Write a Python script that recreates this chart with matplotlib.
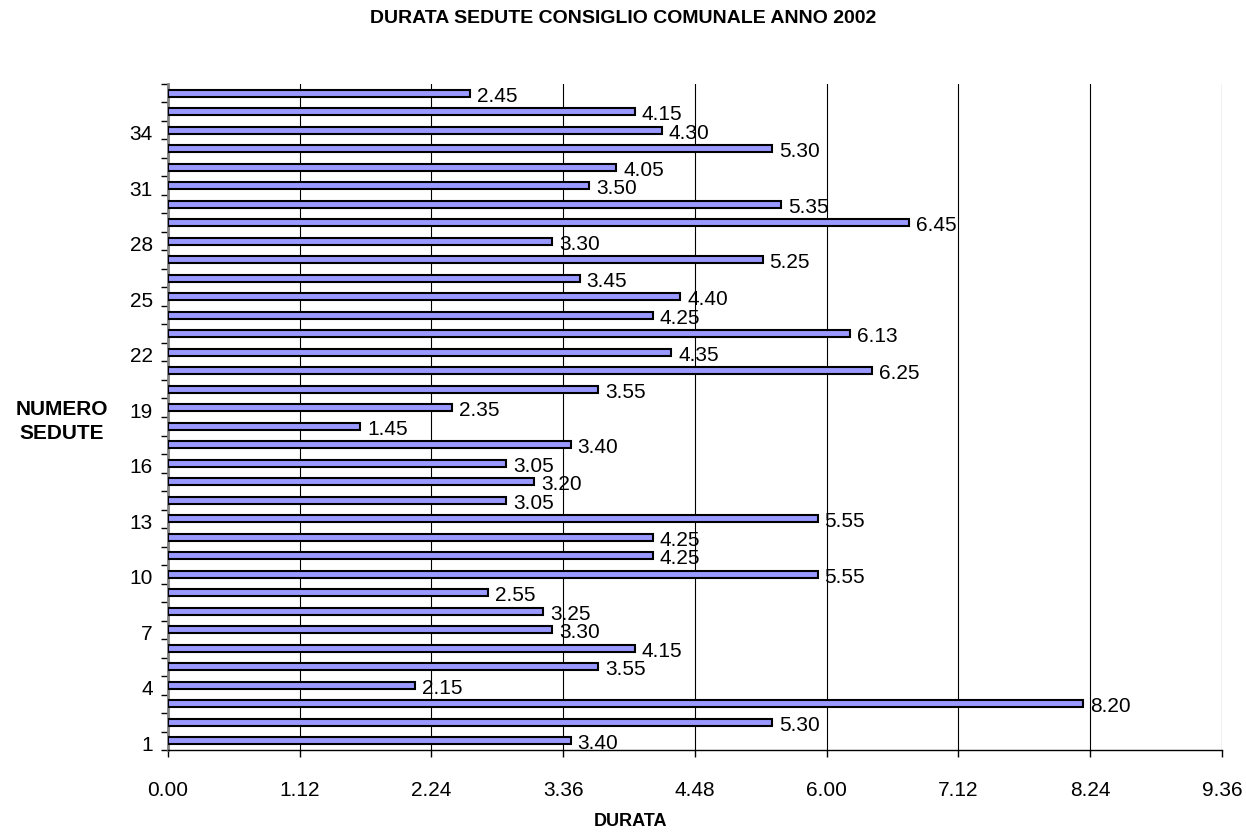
import numpy as np
import matplotlib.pyplot as plt
import matplotlib.transforms as mtransforms
from matplotlib.ticker import FuncFormatter, MultipleLocator

plt.rcParams['font.family'] = ['Liberation Sans', 'DejaVu Sans']

# --- dati (durata in ore.minuti, sedute 1..36) ---
SEDUTE = list(range(1, 37))
DURATE = ["3.40", "5.30", "8.20", "2.15", "3.55", "4.15", "3.30", "3.25", "2.55",
          "5.55", "4.25", "4.25", "5.55", "3.05", "3.20", "3.05", "3.40", "1.45",
          "2.35", "3.55", "6.25", "4.35", "6.13", "4.25", "4.40", "3.45", "5.25",
          "3.30", "6.45", "5.35", "3.50", "4.05", "5.30", "4.30", "4.15", "2.45"]
ETICHETTE_Y = [1, 4, 7, 10, 13, 16, 19, 22, 25, 28, 31, 34]
TITOLO = "DURATA SEDUTE CONSIGLIO COMUNALE ANNO 2002"


def in_ore(s):
    """'h.mm' -> ore decimali"""
    h, m = s.split(".")
    return int(h) + int(m) / 60.0


def fmt_ore(x, pos=None):
    """ore decimali -> 'h.mm'"""
    tot = int(round(x * 60))
    return f"{tot // 60}.{tot % 60:02d}"


ore = [in_ore(d) for d in DURATE]

fig = plt.figure(figsize=(12.46, 8.34), dpi=100)
ax = fig.add_axes([0.1348, 0.1007, 0.8459, 0.7986])

ax.barh(SEDUTE, ore, height=0.4, color='#9999FF', edgecolor='black',
        linewidth=1.5, zorder=3)

for y, x, lab in zip(SEDUTE, ore, DURATE):
    ax.annotate(lab, (x, y), xytext=(5, -2), textcoords='offset points',
                ha='left', va='center', fontsize=15, zorder=4)

ax.set_xlim(0, 9.6)
ax.set_ylim(0.5, 36.5)
ax.xaxis.set_major_locator(MultipleLocator(1.2))
ax.xaxis.set_major_formatter(FuncFormatter(fmt_ore))
ax.tick_params(axis='x', direction='out', length=5, width=1, labelsize=15, pad=17)

ax.set_yticks(ETICHETTE_Y)
ax.set_yticks(np.arange(0.5, 37, 1), minor=True)
ax.tick_params(axis='y', which='major', length=0, labelsize=15, pad=11)
ax.tick_params(axis='y', which='minor', length=5, width=1, color='black')
# etichette leggermente sotto il centro della barra
shift = mtransforms.ScaledTranslation(0, -2.5 / 100, fig.dpi_scale_trans)
for t in ax.get_yticklabels():
    t.set_transform(t.get_transform() + shift)

ax.grid(axis='x', color='black', linewidth=0.8, zorder=0)
for sp in ['top', 'right']:
    ax.spines[sp].set_visible(False)
ax.spines['left'].set_color('#808080')
ax.spines['left'].set_linewidth(2)
ax.spines['bottom'].set_linewidth(1)

fig.text(0.5, 0.978, TITOLO, ha='center', va='center', fontsize=14, fontweight='bold')
fig.text(0.506, 0.015, "DURATA", ha='center', va='center', fontsize=13, fontweight='bold')
fig.text(0.0494, 0.4946, "NUMERO\nSEDUTE", ha='center', va='center', fontsize=15,
         fontweight='bold', linespacing=1.3)

fig.savefig("out.png", dpi=100)
